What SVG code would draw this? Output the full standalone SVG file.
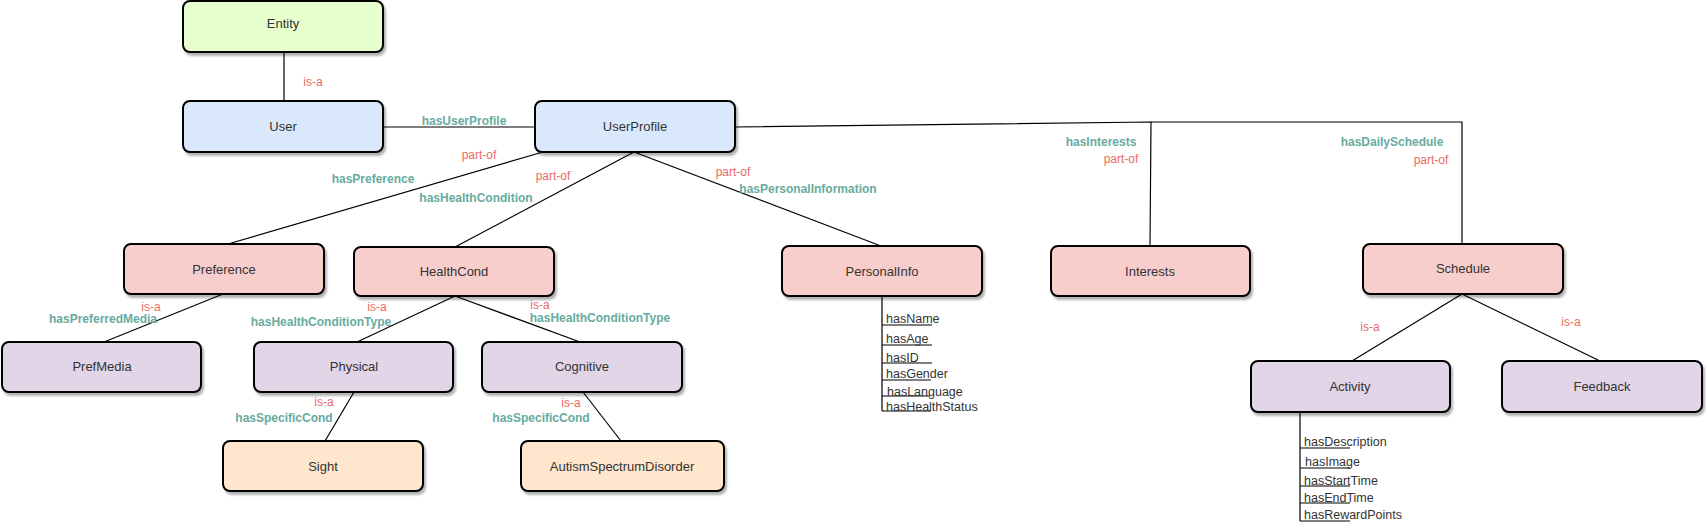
<svg xmlns="http://www.w3.org/2000/svg" width="1706" height="525" viewBox="0 0 1706 525">
<defs>
<filter id="sh" x="-10%" y="-20%" width="130%" height="150%">
<feDropShadow dx="2" dy="3" stdDeviation="1.2" flood-color="#000" flood-opacity="0.3"/>
</filter>
</defs>
<style>
.n rect{stroke:#000;stroke-width:2;filter:url(#sh)}
.g rect{fill:#E6FFCC}
.b rect{fill:#DAE8FC}
.r rect{fill:#F8CECC}
.p rect{fill:#E1D5E7}
.o rect{fill:#FFE6CC}
.n text{font-family:"Liberation Sans",Arial,sans-serif;font-size:13px;fill:#333;text-anchor:middle;dominant-baseline:central}
.c line,.c polyline{stroke:#000;stroke-width:1.2;fill:none}
.lr{font-family:"Liberation Sans",Arial,sans-serif;font-size:12px;fill:#EA6B66;text-anchor:middle;dominant-baseline:central}
.lg{font-family:"Liberation Sans",Arial,sans-serif;font-size:12px;font-weight:bold;fill:#67AB9F;text-anchor:middle;dominant-baseline:central}
.at{font-family:"Liberation Sans",Arial,sans-serif;font-size:12.5px;fill:#333}
</style>
<rect width="1706" height="525" fill="#fff"/>
<g id="connectors" class="c">
<line x1="284" y1="52" x2="284" y2="101"/>
<line x1="383" y1="127" x2="535" y2="127"/>
<line x1="543" y1="152" x2="228" y2="244"/>
<line x1="634" y1="152" x2="455" y2="247"/>
<line x1="634" y1="152" x2="881" y2="246"/>
<polyline points="735,127 1151,122 1150,246"/>
<polyline points="1151,122 1462,122 1462,244"/>
<line x1="223" y1="294" x2="104" y2="342"/>
<line x1="455" y1="296" x2="357" y2="342"/>
<line x1="455" y1="296" x2="580" y2="342"/>
<line x1="354" y1="392" x2="325" y2="441"/>
<line x1="583" y1="392" x2="621" y2="441"/>
<line x1="1462" y1="294" x2="1352" y2="361"/>
<line x1="1462" y1="294" x2="1600" y2="361"/>
<line x1="882" y1="296" x2="882" y2="411"/>
<line x1="882" y1="325" x2="932" y2="325"/>
<line x1="882" y1="345" x2="932" y2="345"/>
<line x1="882" y1="363" x2="932" y2="363"/>
<line x1="882" y1="380" x2="931" y2="380"/>
<line x1="882" y1="396" x2="930" y2="396"/>
<line x1="882" y1="411" x2="931" y2="411"/>
<line x1="1300" y1="412" x2="1300" y2="521"/>
<line x1="1300" y1="448" x2="1350" y2="448"/>
<line x1="1300" y1="468" x2="1350" y2="468"/>
<line x1="1300" y1="486" x2="1350" y2="486"/>
<line x1="1300" y1="503" x2="1350" y2="503"/>
<line x1="1300" y1="521" x2="1350" y2="521"/>
</g>
<g id="edge-labels">
<text class="lr" x="313" y="82">is-a</text>
<text class="lg" x="464" y="121">hasUserProfile</text>
<text class="lr" x="479" y="155">part-of</text>
<text class="lg" x="373" y="179">hasPreference</text>
<text class="lr" x="553" y="176">part-of</text>
<text class="lg" x="476" y="198">hasHealthCondition</text>
<text class="lr" x="733" y="172">part-of</text>
<text class="lg" x="808" y="189">hasPersonalInformation</text>
<text class="lg" x="1101" y="142">hasInterests</text>
<text class="lr" x="1121" y="159">part-of</text>
<text class="lg" x="1392" y="142">hasDailySchedule</text>
<text class="lr" x="1431" y="160">part-of</text>
<text class="lr" x="151" y="307">is-a</text>
<text class="lg" x="103" y="319">hasPreferredMedia</text>
<text class="lr" x="377" y="307">is-a</text>
<text class="lg" x="321" y="322">hasHealthConditionType</text>
<text class="lr" x="540" y="305">is-a</text>
<text class="lg" x="600" y="318">hasHealthConditionType</text>
<text class="lr" x="324" y="402">is-a</text>
<text class="lg" x="284" y="418">hasSpecificCond</text>
<text class="lr" x="571" y="403">is-a</text>
<text class="lg" x="541" y="418">hasSpecificCond</text>
<text class="lr" x="1370" y="327">is-a</text>
<text class="lr" x="1571" y="322">is-a</text>
</g>
<g id="attributes" class="at">
<text x="886" y="323">hasName</text>
<text x="886" y="343">hasAge</text>
<text x="886" y="362">hasID</text>
<text x="886" y="378">hasGender</text>
<text x="887" y="396">hasLanguage</text>
<text x="886" y="411">hasHealthStatus</text>
<text x="1304" y="446">hasDescription</text>
<text x="1305" y="466">hasImage</text>
<text x="1304" y="485">hasStartTime</text>
<text x="1304" y="502">hasEndTime</text>
<text x="1304" y="519">hasRewardPoints</text>
</g>
<g id="Entity" class="n g"><rect x="183" y="1" width="200" height="51" rx="7"/><text x="283" y="23">Entity</text></g>
<g id="User" class="n b"><rect x="183" y="101" width="200" height="51" rx="7"/><text x="283" y="126">User</text></g>
<g id="UserProfile" class="n b"><rect x="535" y="101" width="200" height="51" rx="7"/><text x="635" y="126">UserProfile</text></g>
<g id="Preference" class="n r"><rect x="124" y="244" width="200" height="50" rx="7"/><text x="224" y="269">Preference</text></g>
<g id="HealthCond" class="n r"><rect x="354" y="247" width="200" height="49" rx="7"/><text x="454" y="271">HealthCond</text></g>
<g id="PersonalInfo" class="n r"><rect x="782" y="246" width="200" height="50" rx="7"/><text x="882" y="271">PersonalInfo</text></g>
<g id="Interests" class="n r"><rect x="1051" y="246" width="199" height="50" rx="7"/><text x="1150" y="271">Interests</text></g>
<g id="Schedule" class="n r"><rect x="1363" y="244" width="200" height="50" rx="7"/><text x="1463" y="268">Schedule</text></g>
<g id="PrefMedia" class="n p"><rect x="2" y="342" width="199" height="50" rx="7"/><text x="102" y="366">PrefMedia</text></g>
<g id="Physical" class="n p"><rect x="254" y="342" width="199" height="50" rx="7"/><text x="354" y="366">Physical</text></g>
<g id="Cognitive" class="n p"><rect x="482" y="342" width="200" height="50" rx="7"/><text x="582" y="366">Cognitive</text></g>
<g id="Activity" class="n p"><rect x="1251" y="361" width="199" height="51" rx="7"/><text x="1350" y="386">Activity</text></g>
<g id="Feedback" class="n p"><rect x="1502" y="361" width="200" height="51" rx="7"/><text x="1602" y="386">Feedback</text></g>
<g id="Sight" class="n o"><rect x="223" y="441" width="200" height="50" rx="7"/><text x="323" y="466">Sight</text></g>
<g id="AutismSpectrumDisorder" class="n o"><rect x="521" y="441" width="203" height="50" rx="7"/><text x="622" y="466">AutismSpectrumDisorder</text></g>
</svg>
